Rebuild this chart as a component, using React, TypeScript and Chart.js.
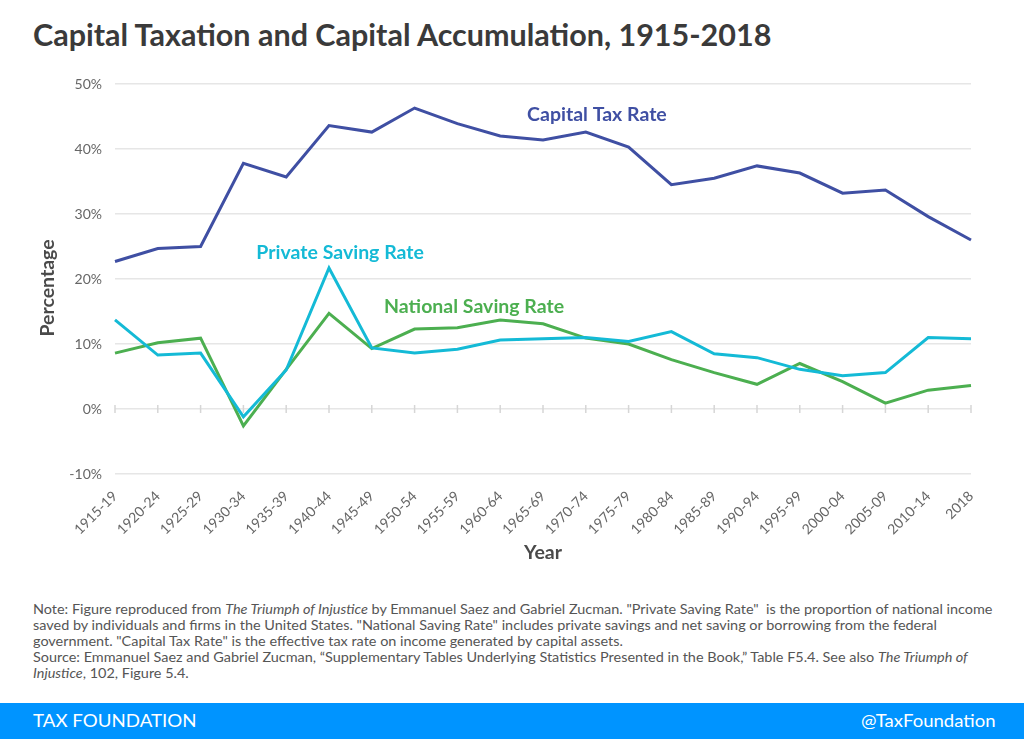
import React, { useEffect, useRef } from "react";
import { Chart, registerables } from "chart.js";

Chart.register(...registerables);

const categories = [
  "1915-19", "1920-24", "1925-29", "1930-34", "1935-39", "1940-44", "1945-49",
  "1950-54", "1955-59", "1960-64", "1965-69", "1970-74", "1975-79", "1980-84",
  "1985-89", "1990-94", "1995-99", "2000-04", "2005-09", "2010-14", "2018",
];

const capitalTaxRate = [
  22.7, 24.7, 25.0, 37.8, 35.7, 43.6, 42.6, 46.3, 43.9, 42.0, 41.4,
  42.6, 40.3, 34.5, 35.5, 37.4, 36.3, 33.2, 33.7, 29.6, 26.0,
];

const privateSavingRate = [
  13.7, 8.3, 8.6, -1.2, 6.0, 21.7, 9.4, 8.6, 9.2, 10.6, 10.8,
  11.0, 10.4, 11.9, 8.5, 7.9, 6.1, 5.1, 5.6, 11.0, 10.8,
];

const nationalSavingRate = [
  8.6, 10.2, 10.9, -2.6, 6.1, 14.7, 9.3, 12.3, 12.5, 13.7, 13.1,
  10.9, 10.0, 7.6, 5.6, 3.8, 7.0, 4.2, 0.9, 2.9, 3.6,
];

const yMin = -10;
const yMax = 50;
const yStep = 10;

const seriesNames = ["Capital Tax Rate", "Private Saving Rate", "National Saving Rate"];

const FONT = "Lato, 'Noto Sans', sans-serif";
const COLORS = ["#3f4fa3", "#14bad6", "#4caf50"];

// label anchors in data space (category index, value)
const labelAnchors = [
  { text: seriesNames[0], x: 11.26, y: 45.2, color: COLORS[0] },
  { text: seriesNames[1], x: 5.26, y: 24.0, color: COLORS[1] },
  { text: seriesNames[2], x: 8.39, y: 15.7, color: COLORS[2] },
];

const overlayPlugin = {
  id: "overlay",
  beforeDatasetsDraw(chart: any) {
    const { ctx, scales } = chart;
    const xs = scales.x;
    const ys = scales.y;
    const y0 = ys.getPixelForValue(0);
    ctx.save();
    ctx.strokeStyle = "#d6d6d6";
    ctx.lineWidth = 1.5;
    categories.forEach((_, i) => {
      const x = xs.getPixelForValue(i);
      ctx.beginPath();
      ctx.moveTo(x, y0 - 4);
      ctx.lineTo(x, y0 + 4);
      ctx.stroke();
    });
    ctx.restore();
  },
  afterDatasetsDraw(chart: any) {
    const { ctx, scales } = chart;
    const xs = scales.x;
    const ys = scales.y;
    ctx.save();
    ctx.font = `bold 19.5px ${FONT}`;
    ctx.textAlign = "center";
    ctx.textBaseline = "middle";
    labelAnchors.forEach((a) => {
      ctx.fillStyle = a.color;
      ctx.fillText(a.text, xs.getPixelForValue(a.x), ys.getPixelForValue(a.y));
    });
    // y axis title
    ctx.translate(48, (ys.top + ys.bottom) / 2 + 9);
    ctx.rotate(-Math.PI / 2);
    ctx.fillStyle = "#4a4a4a";
    ctx.font = `bold 19.5px ${FONT}`;
    ctx.fillText("Percentage", 0, 0);
    ctx.restore();
  },
};

function LineChart() {
  const ref = useRef<HTMLCanvasElement | null>(null);
  useEffect(() => {
    if (!ref.current) return;
    const chart = new Chart(ref.current, {
      type: "line",
      data: {
        labels: categories,
        datasets: [
          { label: seriesNames[0], data: capitalTaxRate, borderColor: COLORS[0] },
          { label: seriesNames[1], data: privateSavingRate, borderColor: COLORS[1] },
          { label: seriesNames[2], data: nationalSavingRate, borderColor: COLORS[2] },
        ].map((d) => ({
          ...d,
          borderWidth: 3,
          pointRadius: 0,
          tension: 0,
          fill: false,
          backgroundColor: d.borderColor,
        })),
      },
      options: {
        animation: false,
        responsive: false,
        layout: { padding: { top: 24, right: 53, left: 0, bottom: 0 } },
        plugins: {
          legend: { display: false },
          tooltip: { enabled: false },
        },
        scales: {
          x: {
            offset: false,
            grid: { display: false },
            border: { display: false },
            ticks: {
              autoSkip: false,
              maxRotation: 45,
              minRotation: 45,
              padding: 6,
              color: "#666666",
              font: { family: FONT, size: 14 },
            },
            title: {
              display: true,
              text: "Year",
              color: "#4a4a4a",
              font: { family: FONT, size: 19.5, weight: "bold" },
              padding: { top: 0, bottom: 16 },
            },
            afterFit(scale: any) {
              scale.height = 106;
            },
          },
          y: {
            min: yMin,
            max: yMax,
            border: { display: false },
            grid: {
              color: "#e6e6e6",
              lineWidth: 1.5,
              drawTicks: false,
            },
            ticks: {
              stepSize: yStep,
              padding: 13,
              color: "#666666",
              font: { family: FONT, size: 14 },
              callback: (v: any) => `${v}%`,
            },
            afterFit(scale: any) {
              scale.width = 115;
            },
          },
        },
      },
      plugins: [overlayPlugin],
    });
    return () => chart.destroy();
  }, []);
  return (
    <canvas
      ref={ref}
      width={1024}
      height={520}
      style={{ position: "absolute", left: 0, top: 60, width: 1024, height: 520 }}
    />
  );
}

export default function App() {
  return (
    <div
      style={{
        position: "fixed",
        left: 0,
        top: 0,
        width: 1024,
        height: 739,
        background: "#ffffff",
        fontFamily: FONT,
        overflow: "hidden",
      }}
    >
      <div
        style={{
          position: "absolute",
          left: 33,
          top: 16,
          fontSize: 30.5,
          lineHeight: "37px",
          fontWeight: 700,
          color: "#3a3a3a",
          whiteSpace: "nowrap",
        }}
      >
        Capital Taxation and Capital Accumulation, 1915-2018
      </div>
      <LineChart />
      <div
        style={{
          position: "absolute",
          left: 33,
          top: 601,
          fontSize: 13,
          lineHeight: "16px",
          color: "#555555",
          whiteSpace: "nowrap",
          transform: "scaleX(1.11)",
          transformOrigin: "left top",
        }}
      >
        Note: Figure reproduced from <i>The Triumph of Injustice</i> by Emmanuel Saez and Gabriel Zucman. "Private Saving Rate"&nbsp; is the proportion of national income
        <br />
        saved by individuals and firms in the United States. "National Saving Rate" includes private savings and net saving or borrowing from the federal
        <br />
        government. "Capital Tax Rate" is the effective tax rate on income generated by capital assets.
        <br />
        Source: Emmanuel Saez and Gabriel Zucman, “Supplementary Tables Underlying Statistics Presented in the Book,” Table F5.4. See also <i>The Triumph of</i>
        <br />
        <i>Injustice</i>, 102, Figure 5.4.
      </div>
      <div
        style={{
          position: "absolute",
          left: 0,
          top: 703,
          width: 1024,
          height: 36,
          background: "#0094ff",
          color: "#ffffff",
          fontSize: 17,
        }}
      >
        <div
          style={{
            position: "absolute",
            left: 33,
            top: 8,
            lineHeight: "20px",
            transform: "scaleX(1.1)",
            transformOrigin: "left top",
          }}
        >
          TAX FOUNDATION
        </div>
        <div
          style={{
            position: "absolute",
            right: 28,
            top: 8,
            lineHeight: "20px",
            transform: "scaleX(1.09)",
            transformOrigin: "right top",
          }}
        >
          @TaxFoundation
        </div>
      </div>
    </div>
  );
}
